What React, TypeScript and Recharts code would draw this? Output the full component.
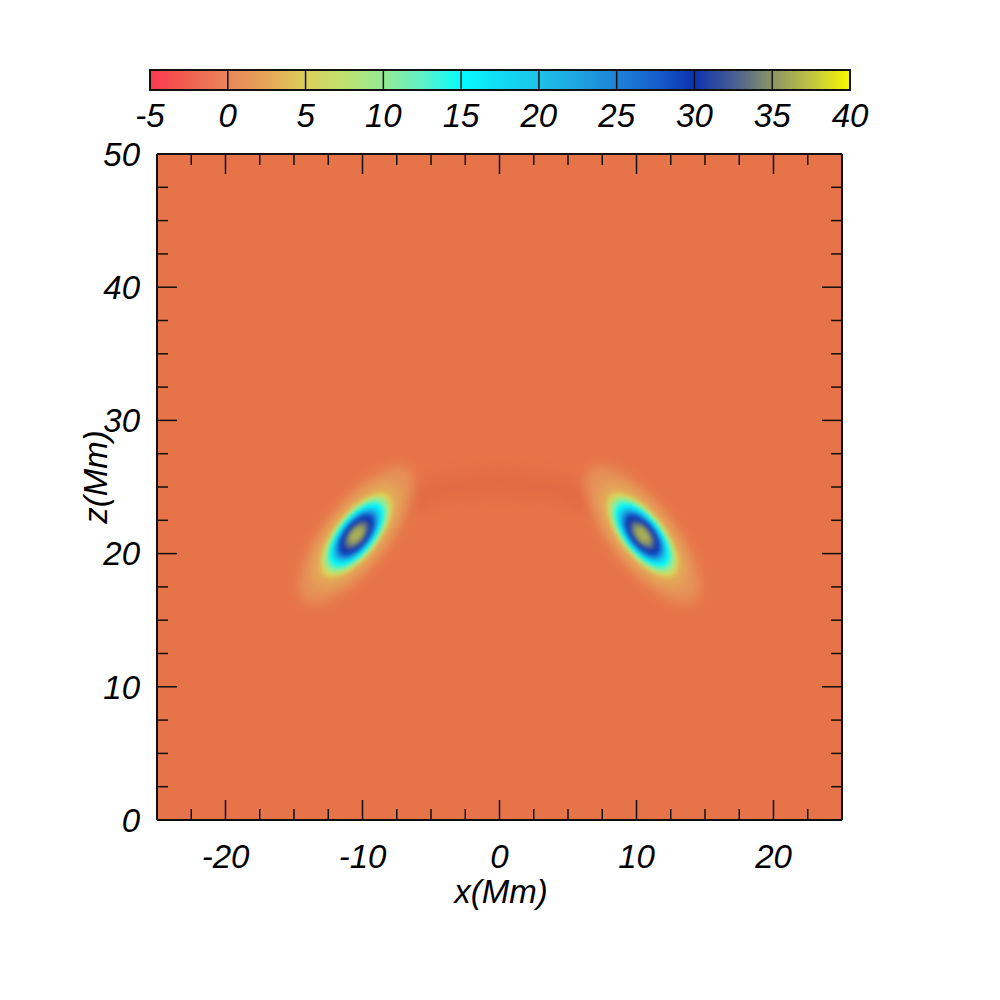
import React from "react";
import {
  ScatterChart, Scatter, XAxis, YAxis, CartesianGrid, ReferenceArea, ReferenceLine, Curve,
} from "recharts";

// colour bar: value -> colour
const cbValues = [-5, -2.5, 0, 2.5, 5, 7.5, 10, 12.5, 15, 17.5, 20, 22.5, 25, 27.5, 30, 32.5, 35, 37.5, 40];
const cbColors = [
  "#fa3a50", "#f0604f", "#e8865a", "#e4a656", "#dcd05a", "#bee270", "#96ea94", "#5ef2c8", "#06fcfc",
  "#10dcf2", "#1cc2e8", "#1ca4e0", "#1e82d8", "#1660ca", "#0c32b0", "#485e92", "#8a9466", "#c0c440", "#fafa00",
];
const cbTicks = [-5, 0, 5, 10, 15, 20, 25, 30, 35, 40];

const xTicks = [-22.5, -20, -17.5, -15, -12.5, -10, -7.5, -5, -2.5, 0, 2.5, 5, 7.5, 10, 12.5, 15, 17.5, 20, 22.5];
const zTicks = [0, 2.5, 5, 7.5, 10, 12.5, 15, 17.5, 20, 22.5, 25, 27.5, 30, 32.5, 35, 37.5, 40, 42.5, 45, 47.5, 50];

const fieldBackground = "#e77448";

// contour levels of each blob, outermost first
const levelValues = [1, 3, 5, 8, 11, 15, 19, 23, 27, 30, 32.5, 35, 36.5];

const leftBlob: number[][][] = [
  [[-6.25, 26.86], [-6.06, 24.11], [-8.44, 19.78], [-11.99, 16.39], [-14.63, 15.94], [-14.82, 18.69], [-12.44, 23.02], [-8.89, 26.41]],
  [[-7.38, 25.38], [-7.13, 23.28], [-8.82, 20.08], [-11.45, 17.65], [-13.5, 17.42], [-13.75, 19.52], [-12.06, 22.72], [-9.43, 25.15]],
  [[-7.88, 24.74], [-7.66, 22.97], [-9.07, 20.28], [-11.28, 18.25], [-13.01, 18.06], [-13.23, 19.83], [-11.81, 22.52], [-9.6, 24.55]],
  [[-8.12, 24.42], [-7.92, 22.82], [-9.19, 20.39], [-11.2, 18.55], [-12.76, 18.38], [-12.96, 19.98], [-11.69, 22.42], [-9.68, 24.25]],
  [[-8.27, 24.23], [-8.07, 22.72], [-9.25, 20.44], [-11.14, 18.72], [-12.61, 18.57], [-12.81, 20.08], [-11.63, 22.36], [-9.74, 24.08]],
  [[-8.52, 23.91], [-8.33, 22.56], [-9.38, 20.54], [-11.05, 19.02], [-12.36, 18.9], [-12.55, 20.24], [-11.5, 22.26], [-9.83, 23.78]],
  [[-8.76, 23.58], [-8.59, 22.41], [-9.5, 20.64], [-10.96, 19.32], [-12.12, 19.22], [-12.29, 20.39], [-11.38, 22.16], [-9.92, 23.48]],
  [[-8.96, 23.33], [-8.8, 22.28], [-9.6, 20.72], [-10.89, 19.55], [-11.92, 19.47], [-12.08, 20.52], [-11.28, 22.09], [-9.99, 23.25]],
  [[-9.13, 23.1], [-8.99, 22.17], [-9.69, 20.79], [-10.83, 19.77], [-11.75, 19.7], [-11.89, 20.63], [-11.19, 22.01], [-10.05, 23.03]],
  [[-9.31, 22.88], [-9.17, 22.07], [-9.78, 20.87], [-10.78, 19.98], [-11.58, 19.92], [-11.71, 20.73], [-11.1, 21.93], [-10.1, 22.82]],
  [[-9.55, 22.56], [-9.44, 21.91], [-9.91, 20.97], [-10.69, 20.28], [-11.33, 20.24], [-11.44, 20.89], [-10.97, 21.83], [-10.19, 22.52]],
  [[-9.8, 22.24], [-9.7, 21.76], [-10.03, 21.07], [-10.61, 20.58], [-11.08, 20.57], [-11.18, 21.04], [-10.85, 21.73], [-10.27, 22.22]],
  [[-10.05, 21.91], [-9.98, 21.62], [-10.19, 21.2], [-10.54, 20.89], [-10.84, 20.89], [-10.9, 21.18], [-10.69, 21.6], [-10.34, 21.91]],
];

const rightBlob: number[][][] = [
  [[6.25, 26.86], [6.06, 24.11], [8.44, 19.78], [11.99, 16.39], [14.63, 15.94], [14.82, 18.69], [12.44, 23.02], [8.89, 26.41]],
  [[7.38, 25.38], [7.13, 23.28], [8.82, 20.08], [11.45, 17.65], [13.5, 17.42], [13.75, 19.52], [12.06, 22.72], [9.43, 25.15]],
  [[7.88, 24.74], [7.66, 22.97], [9.07, 20.28], [11.28, 18.25], [13.01, 18.06], [13.23, 19.83], [11.81, 22.52], [9.6, 24.55]],
  [[8.12, 24.42], [7.92, 22.82], [9.19, 20.39], [11.2, 18.55], [12.76, 18.38], [12.96, 19.98], [11.69, 22.42], [9.68, 24.25]],
  [[8.27, 24.23], [8.07, 22.72], [9.25, 20.44], [11.14, 18.72], [12.61, 18.57], [12.81, 20.08], [11.63, 22.36], [9.74, 24.08]],
  [[8.52, 23.91], [8.33, 22.56], [9.38, 20.54], [11.05, 19.02], [12.36, 18.9], [12.55, 20.24], [11.5, 22.26], [9.83, 23.78]],
  [[8.76, 23.58], [8.59, 22.41], [9.5, 20.64], [10.96, 19.32], [12.12, 19.22], [12.29, 20.39], [11.38, 22.16], [9.92, 23.48]],
  [[8.96, 23.33], [8.8, 22.28], [9.6, 20.72], [10.89, 19.55], [11.92, 19.47], [12.08, 20.52], [11.28, 22.09], [9.99, 23.25]],
  [[9.13, 23.1], [8.99, 22.17], [9.69, 20.79], [10.83, 19.77], [11.75, 19.7], [11.89, 20.63], [11.19, 22.01], [10.05, 23.03]],
  [[9.31, 22.88], [9.17, 22.07], [9.78, 20.87], [10.78, 19.98], [11.58, 19.92], [11.71, 20.73], [11.1, 21.93], [10.1, 22.82]],
  [[9.55, 22.56], [9.44, 21.91], [9.91, 20.97], [10.69, 20.28], [11.33, 20.24], [11.44, 20.89], [10.97, 21.83], [10.19, 22.52]],
  [[9.8, 22.24], [9.7, 21.76], [10.03, 21.07], [10.61, 20.58], [11.08, 20.57], [11.18, 21.04], [10.85, 21.73], [10.27, 22.22]],
  [[10.05, 21.91], [9.98, 21.62], [10.19, 21.2], [10.54, 20.89], [10.84, 20.89], [10.9, 21.18], [10.69, 21.6], [10.34, 21.91]],
];

// faint darker arch joining the two blobs
const arcX = [-7.5, -5, -2.5, 0, 2.5, 5, 7.5];
const arcZ = [23.6, 24.6, 25.1, 25.3, 25.1, 24.6, 23.6];

const FONT = "'Liberation Sans', Arial, Helvetica, sans-serif";
const FS = 33;
const INK = "#111";

function hexToRgb(h: string) {
  const n = parseInt(h.slice(1), 16);
  return [(n >> 16) & 255, (n >> 8) & 255, n & 255];
}

function colorAt(v: number) {
  let i = 0;
  while (i < cbValues.length - 2 && v > cbValues[i + 1]) i++;
  const t = Math.max(0, Math.min(1, (v - cbValues[i]) / (cbValues[i + 1] - cbValues[i])));
  const a = hexToRgb(cbColors[i]);
  const b = hexToRgb(cbColors[i + 1]);
  return `rgb(${a.map((c, k) => Math.round(c + (b[k] - c) * t)).join(",")})`;
}

const isMajor = (v: number) => v % 10 === 0;

function BottomTick({ x, y, payload }: any) {
  const major = isMajor(payload.value);
  return (
    <g>
      <line x1={x} y1={y} x2={x} y2={y - (major ? 20 : 11)} stroke={INK} strokeWidth={1.5} />
      {major && (
        <text x={x} y={y + 48} textAnchor="middle" fontFamily={FONT} fontStyle="italic" fontSize={FS} fill="#000">
          {payload.value}
        </text>
      )}
    </g>
  );
}

function TopTick({ x, y, payload }: any) {
  const major = isMajor(payload.value);
  return <line x1={x} y1={y} x2={x} y2={y + (major ? 20 : 11)} stroke={INK} strokeWidth={1.5} />;
}

function LeftTick({ x, y, payload }: any) {
  const major = isMajor(payload.value);
  return (
    <g>
      <line x1={x} y1={y} x2={x + (major ? 20 : 11)} y2={y} stroke={INK} strokeWidth={1.5} />
      {major && (
        <text x={x - 17} y={y} dy="0.36em" textAnchor="end" fontFamily={FONT} fontStyle="italic" fontSize={FS} fill="#000">
          {payload.value}
        </text>
      )}
    </g>
  );
}

function RightTick({ x, y, payload }: any) {
  const major = isMajor(payload.value);
  return <line x1={x} y1={y} x2={x - (major ? 20 : 11)} y2={y} stroke={INK} strokeWidth={1.5} />;
}

function CbTick({ x, y, payload }: any) {
  return (
    <text x={x} y={y + 37} textAnchor="middle" fontFamily={FONT} fontStyle="italic" fontSize={FS} fill="#000">
      {payload.value}
    </text>
  );
}

const noDot = () => <g />;

function contourSeries(blob: number[][][], prefix: string) {
  return blob.map((pts, i) => {
    const fill = colorAt(levelValues[i]);
    const filter = i < 2 ? "url(#softWide)" : "url(#soft)";
    return (
      <Scatter
        key={prefix + i}
        data={pts.map(([x, z]) => ({ x, z }))}
        xAxisId="b"
        yAxisId="l"
        shape={noDot}
        isAnimationActive={false}
        line={(p: any) => (
          <g filter={filter}>
            <Curve points={p.points} type="basisClosed" fill={fill} stroke="none" />
          </g>
        )}
      />
    );
  });
}

export default function App() {
  const arcData = arcX.map((x, i) => ({ x, z: arcZ[i] }));
  const cbData = cbTicks.map((x) => ({ x, y: 0.5 }));

  return (
    <div style={{ position: "absolute", left: 0, top: 0, width: 1000, height: 1000, background: "#fff" }}>
      <svg width={0} height={0} style={{ position: "absolute" }}>
        <defs>
          <linearGradient id="cbGrad" x1="0" y1="0" x2="1" y2="0">
            {cbValues.map((v, i) => (
              <stop key={v} offset={(v - cbValues[0]) / (cbValues[cbValues.length - 1] - cbValues[0])} stopColor={cbColors[i]} />
            ))}
          </linearGradient>
          <filter id="soft" x="-50%" y="-50%" width="200%" height="200%">
            <feGaussianBlur stdDeviation="2.2" />
          </filter>
          <filter id="softWide" x="-50%" y="-50%" width="200%" height="200%">
            <feGaussianBlur stdDeviation="6" />
          </filter>
          <filter id="arcBlur" x="-50%" y="-200%" width="200%" height="500%">
            <feGaussianBlur stdDeviation="8" />
          </filter>
        </defs>
      </svg>

      <div style={{ position: "absolute", left: 0, top: 0 }}>
        <ScatterChart width={1000} height={1000} margin={{ top: 153, right: 157, bottom: 179, left: 156 }}>
          <CartesianGrid horizontal={false} vertical={false} fill={fieldBackground} fillOpacity={1} xAxisId="b" yAxisId="l" />
          <XAxis xAxisId="b" type="number" dataKey="x" domain={[-25, 25]} allowDataOverflow ticks={xTicks} interval={0}
            height={1} tickSize={0} tickMargin={0} tickLine={false} tick={<BottomTick />}
            axisLine={{ stroke: INK, strokeWidth: 2 }} />
          <XAxis xAxisId="t" orientation="top" type="number" dataKey="x" domain={[-25, 25]} allowDataOverflow ticks={xTicks} interval={0}
            height={1} tickSize={0} tickMargin={0} tickLine={false} tick={<TopTick />}
            axisLine={{ stroke: INK, strokeWidth: 2 }} />
          <YAxis yAxisId="l" type="number" dataKey="z" domain={[0, 50]} allowDataOverflow ticks={zTicks} interval={0}
            width={1} tickSize={0} tickMargin={0} tickLine={false} tick={<LeftTick />}
            axisLine={{ stroke: INK, strokeWidth: 2 }} />
          <YAxis yAxisId="r" orientation="right" type="number" dataKey="z" domain={[0, 50]} allowDataOverflow ticks={zTicks} interval={0}
            width={1} tickSize={0} tickMargin={0} tickLine={false} tick={<RightTick />}
            axisLine={{ stroke: INK, strokeWidth: 2 }} />

          <Scatter
            data={arcData}
            xAxisId="b"
            yAxisId="l"
            shape={noDot}
            isAnimationActive={false}
            line={(p: any) => (
              <g filter="url(#arcBlur)">
                <Curve points={p.points} type="natural" fill="none" stroke="#d9553a" strokeOpacity={0.3} strokeWidth={26} strokeLinecap="round" />
              </g>
            )}
          />
          {contourSeries(leftBlob, "l")}
          {contourSeries(rightBlob, "r")}
        </ScatterChart>
      </div>

      <div style={{ position: "absolute", left: 0, top: 0 }}>
        <ScatterChart width={1000} height={150} margin={{ top: 70, right: 150, bottom: 59, left: 150 }}>
          <XAxis type="number" dataKey="x" domain={[-5, 40]} allowDataOverflow ticks={cbTicks} interval={0}
            height={1} tickSize={0} tickMargin={0} tickLine={false} axisLine={false} tick={<CbTick />} />
          <YAxis type="number" dataKey="y" domain={[0, 1]} allowDataOverflow hide />
          <Scatter data={cbData} shape={noDot} isAnimationActive={false} />
          <ReferenceArea x1={-5} x2={40} y1={0} y2={1} fill="url(#cbGrad)" fillOpacity={1} stroke={INK} strokeWidth={2} />
          {cbTicks.slice(1, -1).map((v) => (
            <ReferenceLine key={v} x={v} stroke={INK} strokeWidth={1.5} />
          ))}
        </ScatterChart>
      </div>

      <svg width={1000} height={1000} style={{ position: "absolute", left: 0, top: 0, pointerEvents: "none" }}>
        <text x={501} y={903} textAnchor="middle" fontFamily={FONT} fontStyle="italic" fontSize={FS} fill="#000">x(Mm)</text>
        <text transform="translate(107,477) rotate(-90)" textAnchor="middle" fontFamily={FONT} fontStyle="italic" fontSize={FS} fill="#000">z(Mm)</text>
      </svg>
    </div>
  );
}
